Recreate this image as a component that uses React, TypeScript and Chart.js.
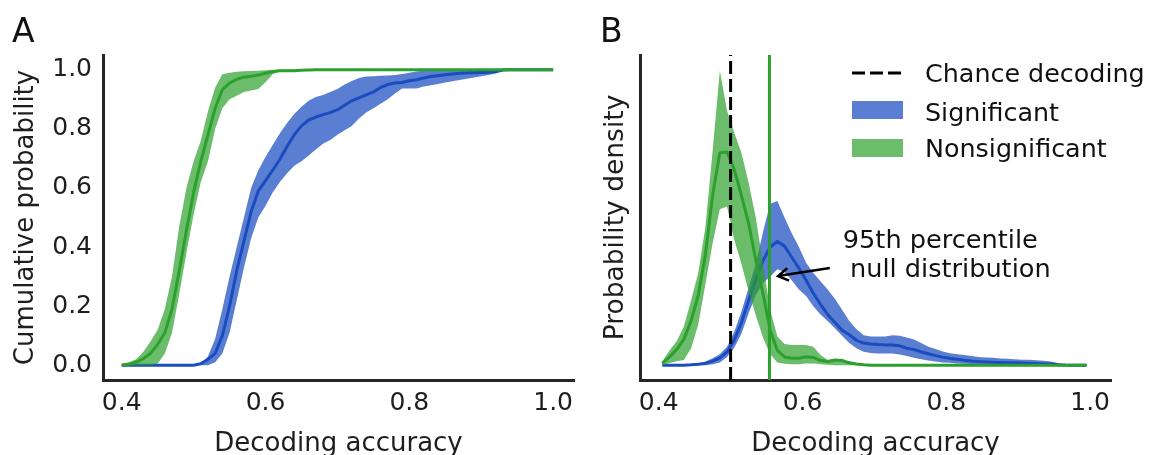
import React, { useEffect, useRef } from 'react';
import { Chart, registerables } from 'chart.js';

Chart.register(...registerables);

const W = 1149;
const H = 455;
const FONT = 'DejaVu Sans';
const TEXT = '#1e1e1e';
const AXIS = '#262626';

const BLUE_LINE = '#1a4cc0';
const BLUE_BAND = 'rgba(26,76,192,0.72)';
const GREEN_LINE = '#2ca02c';
const GREEN_BAND = 'rgba(44,160,44,0.7)';

// ---------- Panel A : cumulative probability ----------
const CDF_X = Array.from({ length: 61 }, (_, i) => Math.round((0.4 + i * 0.01) * 1000) / 1000);

const GREEN_CDF_MEAN = [
  0, 0.003, 0.01, 0.022, 0.04, 0.07, 0.11, 0.19, 0.32, 0.455,
  0.585, 0.69, 0.78, 0.87, 0.933, 0.955, 0.968, 0.975, 0.978, 0.982,
  0.988, 0.994, 0.997, 0.997, 0.997, 0.998, 0.999,
  1, 1, 1, 1, 1, 1, 1, 1, 1, 1, 1, 1, 1, 1, 1, 1, 1, 1, 1, 1,
  1, 1, 1, 1, 1, 1, 1, 1, 1, 1, 1, 1, 1, 1,
];
const GREEN_CDF_UPPER = [
  0.004, 0.01, 0.02, 0.045, 0.08, 0.12, 0.19, 0.3, 0.47, 0.6,
  0.69, 0.76, 0.86, 0.94, 0.985, 0.99, 0.993, 0.995, 0.996, 0.997,
  0.998, 0.999,
  1, 1, 1, 1, 1, 1, 1, 1, 1, 1, 1, 1, 1, 1, 1, 1, 1, 1, 1, 1,
  1, 1, 1, 1, 1, 1, 1, 1, 1, 1, 1, 1, 1, 1, 1, 1, 1, 1, 1,
];
const GREEN_CDF_LOWER = [
  0, 0, 0, 0, 0, 0.005, 0.04, 0.11, 0.24, 0.38,
  0.51, 0.62, 0.69, 0.8, 0.87, 0.9, 0.912, 0.925, 0.93, 0.935,
  0.958, 0.985, 0.995, 0.995, 0.995, 0.996, 0.998,
  1, 1, 1, 1, 1, 1, 1, 1, 1, 1, 1, 1, 1, 1, 1, 1, 1, 1, 1, 1,
  1, 1, 1, 1, 1, 1, 1, 1, 1, 1, 1, 1, 1, 1,
];
const BLUE_CDF_MEAN = [
  0, 0, 0, 0, 0, 0, 0, 0, 0, 0, 0,
  0.005, 0.02, 0.04, 0.1, 0.2, 0.32, 0.42, 0.52, 0.59, 0.625,
  0.66, 0.697, 0.74, 0.78, 0.81, 0.83, 0.84, 0.848, 0.855, 0.865,
  0.88, 0.895, 0.905, 0.915, 0.925, 0.94, 0.95, 0.955, 0.957, 0.963,
  0.966, 0.972, 0.977, 0.98, 0.983, 0.986, 0.988, 0.989, 0.99, 0.991,
  0.992, 0.994, 0.999,
  1, 1, 1, 1, 1, 1, 1,
];
const BLUE_CDF_UPPER = [
  0, 0, 0, 0, 0, 0, 0, 0, 0, 0, 0, 0,
  0.03, 0.09, 0.19, 0.3, 0.4, 0.5, 0.6, 0.66, 0.705, 0.745,
  0.785, 0.82, 0.85, 0.875, 0.895, 0.908, 0.915, 0.925, 0.935, 0.95,
  0.962, 0.972, 0.977, 0.978, 0.98, 0.981, 0.982, 0.986, 0.99, 0.994,
  0.997, 0.999,
  1, 1, 1, 1, 1, 1, 1, 1, 1, 1, 1, 1, 1, 1, 1, 1, 1,
];
const BLUE_CDF_LOWER = [
  0, 0, 0, 0, 0, 0, 0, 0, 0, 0, 0, 0, 0,
  0.01, 0.04, 0.11, 0.22, 0.33, 0.43, 0.5, 0.54, 0.585, 0.62,
  0.65, 0.675, 0.69, 0.71, 0.73, 0.75, 0.762, 0.78, 0.795, 0.81,
  0.835, 0.855, 0.87, 0.885, 0.9, 0.92, 0.937, 0.937, 0.937, 0.943,
  0.948, 0.952, 0.957, 0.961, 0.965, 0.97, 0.974, 0.978, 0.982, 0.987,
  0.995,
  1, 1, 1, 1, 1, 1, 1,
];

// ---------- Panel B : probability density ----------
const PDF_X = Array.from({ length: 60 }, (_, i) => Math.round((0.405 + i * 0.01) * 1000) / 1000);

const GREEN_PDF_MEAN = [
  0.1, 0.45, 0.85, 1.4, 2.4, 3.8, 6.0, 9.2, 11.5, 11.55,
  10.6, 9.2, 7.7, 5.7, 3.9, 1.9, 0.8, 0.45, 0.38, 0.38,
  0.46, 0.42, 0.25, 0.2, 0.28, 0.25, 0.13, 0.07, 0.03,
  0, 0, 0, 0, 0, 0, 0, 0, 0, 0, 0, 0, 0, 0, 0, 0,
  0, 0, 0, 0, 0, 0, 0, 0, 0, 0, 0, 0, 0, 0, 0,
];
const GREEN_PDF_UPPER = [
  0.2, 0.8, 1.3, 2.1, 3.5, 5.0, 7.5, 11.6, 15.95, 13.8,
  12.6, 11.5, 9.9, 8.0, 5.5, 3.0, 1.55, 1.15, 1.1, 1.1,
  1.1, 1.0, 0.55, 0.28, 0.33, 0.35, 0.2, 0.12, 0.07, 0.02,
  0, 0, 0, 0, 0, 0, 0, 0, 0, 0, 0, 0, 0, 0, 0,
  0, 0, 0, 0, 0, 0, 0, 0, 0, 0, 0, 0, 0, 0, 0,
];
const GREEN_PDF_LOWER = [
  0, 0.12, 0.22, 0.28, 0.9, 2.2, 4.4, 6.6, 8.45, 8.6,
  6.8, 5.5, 4.0, 2.7, 1.5, 0.6, 0.15, 0.08, 0.05, 0.05,
  0.1, 0.1, 0.05, 0.02,
  0, 0, 0, 0, 0, 0, 0, 0, 0, 0, 0, 0, 0, 0, 0, 0, 0, 0,
  0, 0, 0, 0, 0, 0, 0, 0, 0, 0, 0, 0, 0, 0, 0, 0, 0, 0,
];
const BLUE_PDF_MEAN = [
  0, 0, 0, 0, 0.02, 0.05, 0.1, 0.22, 0.4, 0.72,
  1.35, 2.3, 3.5, 4.65, 5.65, 6.4, 6.7, 6.45, 5.85, 5.25,
  4.6, 3.9, 3.3, 2.75, 2.32, 1.9, 1.65, 1.35, 1.2, 1.15,
  1.12, 1.1, 1.09, 1.05, 0.92, 0.85, 0.72, 0.62, 0.52, 0.44,
  0.37, 0.32, 0.27, 0.23, 0.2, 0.18, 0.16, 0.15, 0.14, 0.13,
  0.12, 0.1, 0.09, 0.07, 0.06, 0.03, 0.01, 0, 0, 0,
];
const BLUE_PDF_UPPER = [
  0, 0, 0, 0, 0.04, 0.1, 0.2, 0.38, 0.6, 1.0,
  1.8, 2.9, 4.2, 5.5, 7.2, 8.75, 8.9, 8.0, 7.15, 6.4,
  5.55, 5.0, 4.55, 4.1, 3.6, 3.0, 2.4, 1.95, 1.62, 1.55,
  1.55, 1.56, 1.63, 1.6, 1.5, 1.4, 1.2, 1.0, 0.88, 0.75,
  0.65, 0.6, 0.56, 0.5, 0.45, 0.42, 0.4, 0.37, 0.35, 0.32,
  0.3, 0.29, 0.27, 0.24, 0.2, 0.12, 0.05, 0.01, 0, 0,
];
const BLUE_PDF_LOWER = [
  0, 0, 0, 0, 0, 0, 0, 0.05, 0.15, 0.45,
  0.95, 1.7, 2.8, 3.8, 4.45, 4.8, 5.2, 5.05, 4.6, 4.1,
  3.75, 3.2, 2.75, 2.4, 2.0, 1.6, 1.2, 0.92, 0.73, 0.66,
  0.64, 0.63, 0.64, 0.58, 0.5, 0.4, 0.32, 0.25, 0.2, 0.15,
  0.13, 0.1, 0.08, 0.07, 0.06, 0.05, 0.04, 0.03, 0.03, 0.02,
  0.02, 0.01, 0.01, 0, 0, 0, 0, 0, 0, 0,
];

const X_TICKS = [0.4, 0.6, 0.8, 1.0];
const Y_TICKS_A = [0, 0.2, 0.4, 0.6, 0.8, 1.0];
const X_MIN = 0.374;
const X_MAX = 1.029;
const PDF_Y_MIN = -0.8;
const PDF_Y_MAX = 16.8;

const CHANCE_X = 0.5;
const NULL_95_X = 0.554;

const LEGEND_LABELS = ['Chance decoding', 'Significant', 'Nonsignificant'];
const ANNOT_LINES = ['95th percentile', 'null distribution'];
const ANNOT_TEXT_X = [0.656, 0.666];
const ANNOT_TEXT_Y = [6.35, 4.78];
const ARROW_FROM = [0.638, 5.26];
const ARROW_TO = [0.566, 4.83];

const pts = (xs: number[], ys: number[]) => xs.map((x, i) => ({ x, y: ys[i] }));

function bandSets(xs: number[], lower: number[], upper: number[], mean: number[], line: string, band: string, base: number) {
  return [
    { data: pts(xs, lower), borderColor: 'rgba(0,0,0,0)', borderWidth: 0, pointRadius: 0, fill: false, order: base + 2 },
    { data: pts(xs, upper), borderColor: 'rgba(0,0,0,0)', borderWidth: 0, pointRadius: 0, fill: '-1', backgroundColor: band, order: base + 1 },
    { data: pts(xs, mean), borderColor: line, borderWidth: 3, pointRadius: 0, fill: false, order: base, borderJoinStyle: 'round' },
  ];
}

function font(size: number) {
  return `${size}px "${FONT}"`;
}

function drawRotated(ctx: CanvasRenderingContext2D, text: string, x: number, y: number, size: number) {
  ctx.save();
  ctx.translate(x, y);
  ctx.rotate(-Math.PI / 2);
  ctx.font = font(size);
  ctx.fillStyle = TEXT;
  ctx.textAlign = 'center';
  ctx.textBaseline = 'alphabetic';
  ctx.fillText(text, 0, 0);
  ctx.restore();
}

function xScaleOpts() {
  return {
    type: 'linear',
    min: X_MIN,
    max: X_MAX,
    grid: { display: false, drawTicks: false },
    border: { display: true, color: AXIS, width: 3 },
    ticks: {
      font: { family: FONT, size: 25 },
      color: TEXT,
      padding: 8,
      maxRotation: 0,
      autoSkip: false,
      callback: (v: any) => Number(v).toFixed(1),
    },
    afterBuildTicks: (s: any) => {
      s.ticks = X_TICKS.map((value) => ({ value }));
    },
    afterFit: (s: any) => {
      s.height = H - 380;
    },
  };
}

function makeA(canvas: HTMLCanvasElement) {
  const labels = {
    id: 'labelsA',
    afterDraw(chart: any) {
      const ctx = chart.ctx as CanvasRenderingContext2D;
      const area = chart.chartArea;
      ctx.save();
      ctx.font = font(33);
      ctx.fillStyle = '#111';
      ctx.textAlign = 'left';
      ctx.textBaseline = 'alphabetic';
      ctx.fillText('A', 12, 42);
      ctx.font = font(26);
      ctx.fillStyle = TEXT;
      ctx.textAlign = 'center';
      ctx.fillText('Decoding accuracy', (area.left + area.right) / 2, 451);
      ctx.restore();
      drawRotated(ctx, 'Cumulative probability', 33, (area.top + area.bottom) / 2, 26);
    },
  };
  return new Chart(canvas, {
    type: 'line',
    data: {
      datasets: [
        ...bandSets(CDF_X, BLUE_CDF_LOWER, BLUE_CDF_UPPER, BLUE_CDF_MEAN, BLUE_LINE, BLUE_BAND, 8),
        ...bandSets(CDF_X, GREEN_CDF_LOWER, GREEN_CDF_UPPER, GREEN_CDF_MEAN, GREEN_LINE, GREEN_BAND, 5),
      ] as any,
    },
    options: {
      responsive: false,
      animation: false,
      devicePixelRatio: 1,
      events: [],
      layout: { padding: { left: 0, right: W - 574, top: 55, bottom: 0 } },
      plugins: { legend: { display: false }, tooltip: { enabled: false } },
      scales: {
        x: xScaleOpts() as any,
        y: {
          type: 'linear',
          min: -0.05,
          max: 1.05,
          grid: { display: false, drawTicks: false },
          border: { display: true, color: AXIS, width: 3 },
          ticks: {
            font: { family: FONT, size: 25 },
            color: TEXT,
            padding: 11,
            callback: (v: any) => Number(v).toFixed(1),
          },
          afterBuildTicks: (s: any) => {
            s.ticks = Y_TICKS_A.map((value) => ({ value }));
          },
          afterFit: (s: any) => {
            s.width = 103;
          },
        },
      },
    },
    plugins: [labels],
  } as any);
}

function makeB(canvas: HTMLCanvasElement) {
  const labels = {
    id: 'labelsB',
    afterDraw(chart: any) {
      const ctx = chart.ctx as CanvasRenderingContext2D;
      const area = chart.chartArea;
      const xs = chart.scales.x;
      const ys = chart.scales.y;
      ctx.save();
      ctx.font = font(33);
      ctx.fillStyle = '#111';
      ctx.textAlign = 'left';
      ctx.textBaseline = 'alphabetic';
      ctx.fillText('B', 600, 42);
      ctx.font = font(26);
      ctx.fillStyle = TEXT;
      ctx.textAlign = 'center';
      ctx.fillText('Decoding accuracy', (area.left + area.right) / 2, 451);
      ctx.restore();
      drawRotated(ctx, 'Probability density', 623, (area.top + area.bottom) / 2, 26.5);

      // legend
      ctx.save();
      const lx0 = area.left + 212;
      const lx1 = lx0 + 51;
      ctx.strokeStyle = '#000';
      ctx.lineWidth = 3;
      ctx.setLineDash([13, 5]);
      ctx.beginPath();
      ctx.moveTo(lx0, 73);
      ctx.lineTo(lx1, 73);
      ctx.stroke();
      ctx.setLineDash([]);
      ctx.fillStyle = BLUE_BAND;
      ctx.fillRect(lx0, 101, lx1 - lx0, 18);
      ctx.fillStyle = GREEN_BAND;
      ctx.fillRect(lx0, 139, lx1 - lx0, 18);
      ctx.font = font(25.4);
      ctx.fillStyle = '#111';
      ctx.textAlign = 'left';
      ctx.textBaseline = 'alphabetic';
      const tx = lx0 + 73;
      ctx.fillText(LEGEND_LABELS[0], tx, 82);
      ctx.fillText(LEGEND_LABELS[1], tx, 121);
      ctx.fillText(LEGEND_LABELS[2], tx, 157);

      // annotation
      ctx.font = font(25.6);
      ANNOT_LINES.forEach((t, i) => {
        ctx.fillText(t, xs.getPixelForValue(ANNOT_TEXT_X[i]), ys.getPixelForValue(ANNOT_TEXT_Y[i]));
      });
      const fx = xs.getPixelForValue(ARROW_FROM[0]);
      const fy = ys.getPixelForValue(ARROW_FROM[1]);
      const tx2 = xs.getPixelForValue(ARROW_TO[0]);
      const ty2 = ys.getPixelForValue(ARROW_TO[1]);
      ctx.strokeStyle = '#000';
      ctx.lineWidth = 2.5;
      ctx.lineCap = 'butt';
      ctx.beginPath();
      ctx.moveTo(fx, fy);
      ctx.lineTo(tx2, ty2);
      ctx.stroke();
      const ang = Math.atan2(fy - ty2, fx - tx2);
      const hl = 12;
      const ha = 0.55;
      ctx.beginPath();
      ctx.moveTo(tx2 + hl * Math.cos(ang + ha), ty2 + hl * Math.sin(ang + ha));
      ctx.lineTo(tx2, ty2);
      ctx.lineTo(tx2 + hl * Math.cos(ang - ha), ty2 + hl * Math.sin(ang - ha));
      ctx.stroke();
      ctx.restore();
    },
  };
  return new Chart(canvas, {
    type: 'line',
    data: {
      datasets: [
        ...bandSets(PDF_X, BLUE_PDF_LOWER, BLUE_PDF_UPPER, BLUE_PDF_MEAN, BLUE_LINE, BLUE_BAND, 8),
        ...bandSets(PDF_X, GREEN_PDF_LOWER, GREEN_PDF_UPPER, GREEN_PDF_MEAN, GREEN_LINE, GREEN_BAND, 5),
        {
          data: [{ x: CHANCE_X, y: PDF_Y_MIN }, { x: CHANCE_X, y: PDF_Y_MAX }],
          borderColor: '#000',
          borderWidth: 3,
          borderDash: [13, 5],
          pointRadius: 0,
          fill: false,
          order: 2,
        },
        {
          data: [{ x: NULL_95_X, y: PDF_Y_MIN }, { x: NULL_95_X, y: PDF_Y_MAX }],
          borderColor: GREEN_LINE,
          borderWidth: 3,
          pointRadius: 0,
          fill: false,
          order: 1,
        },
      ] as any,
    },
    options: {
      responsive: false,
      animation: false,
      devicePixelRatio: 1,
      events: [],
      layout: { padding: { left: 0, right: W - 1111, top: 55, bottom: 0 } },
      plugins: { legend: { display: false }, tooltip: { enabled: false } },
      scales: {
        x: xScaleOpts() as any,
        y: {
          type: 'linear',
          min: PDF_Y_MIN,
          max: PDF_Y_MAX,
          grid: { display: false, drawTicks: false },
          border: { display: true, color: AXIS, width: 3 },
          ticks: { display: false },
          afterFit: (s: any) => {
            s.width = 640;
          },
        },
      },
    },
    plugins: [labels],
  } as any);
}

export default function App() {
  const refA = useRef<HTMLCanvasElement>(null);
  const refB = useRef<HTMLCanvasElement>(null);
  useEffect(() => {
    const a = makeA(refA.current!);
    const b = makeB(refB.current!);
    return () => {
      a.destroy();
      b.destroy();
    };
  }, []);
  return (
    <div style={{ position: 'absolute', left: 0, top: 0, width: W, height: H, background: '#fff' }}>
      <canvas ref={refA} width={W} height={H} style={{ position: 'absolute', left: 0, top: 0 }} />
      <canvas ref={refB} width={W} height={H} style={{ position: 'absolute', left: 0, top: 0 }} />
    </div>
  );
}
